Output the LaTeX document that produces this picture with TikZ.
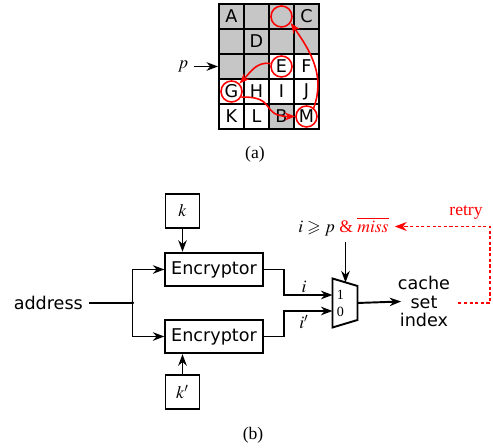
\documentclass[tikz,border=0pt]{standalone}
\usepackage{amssymb}
\usepackage{mathptmx}
\usepackage{fontspec}
\setmainfont{Liberation Serif}
\newfontfamily\sansfont{DejaVu Sans}
\usetikzlibrary{arrows.meta}
\tikzset{
  cell/.style  = {rectangle, draw, line width=1.1pt, minimum size=5mm, inner sep=0, font=\sansfont},
  ring/.style  = {circle, draw=red, line width=0.9pt, minimum size=4.2mm, inner sep=0},
  box/.style   = {rectangle, draw, line width=1.1pt, minimum size=6.8mm, inner sep=0},
  enc/.style   = {rectangle, draw, line width=1.1pt, minimum width=19.3mm, minimum height=6.7mm, font=\sansfont},
  link/.style  = {line width=1.1pt}, arr/.style = {link, -{Stealth[length=2.3mm,width=1.7mm]}},
  rarr/.style  = {line width=0.9pt, red, -{Stealth[length=2.1mm,width=1.6mm]}},
  retryline/.style = {line width=0.9pt, red, dash pattern=on 1.8pt off 1.4pt, -{Stealth[length=2.4mm,width=1.8mm,sep=0pt]}},
  et/.style    = {font=\sansfont}, dig/.style = {font=\fontsize{8}{9}\selectfont, inner sep=0}
}
\begin{document}
\begin{tikzpicture}
  \useasboundingbox (0,0) rectangle (9.86,8.96);
  % cache table
  \foreach \c/\r/\t/\f in {0/0/A/gray!45, 1/0//gray!45, 2/0//gray!45, 3/0/C/gray!45,
      0/1//gray!45, 1/1/D/gray!45, 2/1//gray!45, 3/1//gray!45,
      0/2//gray!45, 1/2//gray!45, 2/2/E/white, 3/2/F/white,
      0/3/G/white, 1/3/H/white, 2/3/I/white, 3/3/J/white,
      0/4/K/white, 1/4/L/white, 2/4/B/gray!45, 3/4/M/white}
    \node[cell, fill=\f] (c\c\r) at (4.63+0.5*\c, 8.63-0.5*\r) {\t};
  \node[ring] (rT) at (c20) {}; \node[ring] (rE) at (c22) {};
  \node[ring] (rG) at (c03) {}; \node[ring] (rM) at (c34) {};
  \draw[rarr] (rE.165) to[out=170,in=45] (rG.45);
  \draw[rarr] (rG.-30) .. controls (5.55,7.04) and (5.2,6.63) .. (rM.west);
  \draw[rarr] (rM.50) to[out=70,in=-55] (rT.-35);
  \node (p) at (3.66,7.63) {$p$}; \draw[arr] (p) -- (c02.west);
  \node at (5.1,5.88) {(a)};

  % encryptors and mux
  \node[box] (k)  at (3.65,4.74) {$k$};
  \node[enc] (e1) at (4.28,3.57) {Encryptor};
  \node[enc] (e2) at (4.28,2.23) {Encryptor};
  \node[box] (k2) at (3.65,1.12) {$k'$};
  \node[et,anchor=east] (addr) at (1.78,2.9) {address};
  \coordinate (dot) at (2.65,2.9); \fill (dot) circle (0.035);
  \draw[link] (addr) -- (dot); \draw[arr] (dot) |- (e1); \draw[arr] (dot) |- (e2);
  \draw[arr] (k) -- (k |- e1.north); \draw[arr] (k2) -- (k2 |- e2.south);
  \draw[link, line join=miter] (6.65,3.39) -- (7.15,3.24) -- (7.15,2.56) -- (6.65,2.41) -- cycle;
  \coordinate (mi) at (6.65,3.06); \coordinate (mi2) at (6.65,2.74);
  \coordinate (mo) at (7.15,2.9);  \coordinate (ms) at (6.91,3.31);
  \node[dig] at (6.81,3.06) {1}; \node[dig] at (6.81,2.72) {0};
  \draw[arr] (e1.east) -- ++(0.41,0) |- (mi); \node at (6.08,3.23) {$i$};
  \draw[arr] (e2.east) -- ++(0.41,0) |- (mi2); \node at (6.08,2.52) {$i'$};
  \node (cond) at (6.87,4.43) {$i \geqslant p$ \textcolor{red}{\& $\overline{miss}$}};
  \draw[arr] (ms |- cond.south) -- (ms);
  \node[et, align=center, inner sep=0, font=\sansfont\fontsize{10}{10.4}\selectfont] (cache) at (8.48,2.93) {cache\\set\\index};
  \draw[arr] (mo) -- ([xshift=2pt]cache.west);
  \draw[retryline] ([xshift=4.5pt]cache.east |- mo) -- ++(0.64,0) |- (cond.east);
  \node[red] at (9.32,4.71) {retry};
  \node at (5.06,0.26) {(b)};
\end{tikzpicture}
\end{document}
